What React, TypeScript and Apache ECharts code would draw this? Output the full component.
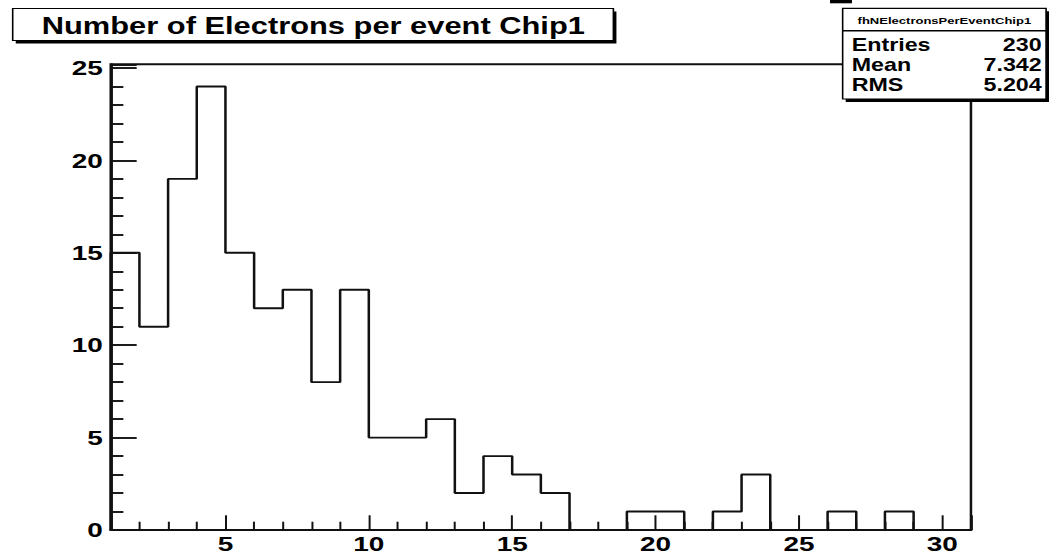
import React, { useEffect, useRef } from "react";
import * as echarts from "echarts";

// Histogram content
const titleText = "Number of Electrons per event Chip1";
const histName = "fhNElectronsPerEventChip1";
const statLabels = ["Entries", "Mean", "RMS"];
const statValues = ["230", "7.342", "5.204"];
const xRange = [1, 31];
const binWidth = 1;
const counts = [15, 11, 19, 24, 15, 12, 13, 8, 13, 5, 5, 6, 2, 4, 3, 2, 0, 0, 1, 1, 0, 1, 3, 0, 0, 1, 0, 1, 0, 0];
const yRange = [0, 25.2];
const yTickStep = 5;

// Canvas is drawn narrow and stretched horizontally, like the original ROOT export
const W = 789;
const H = 554;
const SX = 1049 / W;
const FONT = '"Liberation Sans", Arial, Helvetica, sans-serif';

// Step outline of the histogram: left wall, bin tops, right wall
function outline(): number[][] {
  const pts: number[][] = [[xRange[0], 0]];
  counts.forEach((c, i) => {
    const lo = xRange[0] + i * binWidth;
    pts.push([lo, c], [lo + binWidth, c]);
  });
  pts.push([xRange[1], 0]);
  return pts;
}

function shadowBox(x: number, y: number, w: number, h: number, z: number) {
  return [
    { type: "rect", z, shape: { x: x + 2.3, y: y + 3, width: w, height: h }, style: { fill: "#000" } },
    { type: "rect", z: z + 1, shape: { x, y, width: w, height: h }, style: { fill: "#fff", stroke: "#000", lineWidth: 1.2 } },
  ];
}

export default function App() {
  const ref = useRef<HTMLDivElement>(null);

  useEffect(() => {
    if (!ref.current) return;
    const chart = echarts.init(ref.current, undefined, { renderer: "svg", width: W, height: H });

    const statBox = { x: 633.8, y: 8.3, w: 153, h: 90.7, sep: 30.7 };
    const rowsY = [44.2, 64.5, 84.8];

    const graphic: any[] = [
      ...shadowBox(9.55, 8.5, 451.8, 32, 100),
      {
        type: "text", z: 110, x: 31.4, y: 26.2,
        style: { text: titleText, font: `bold 23.2px ${FONT}`, fill: "#000", verticalAlign: "middle" },
      },
      ...shadowBox(statBox.x, statBox.y, statBox.w, statBox.h, 100),
      // foot of a clipped glyph at the top edge
      { type: "rect", z: 120, shape: { x: 624.3, y: 0, width: 16.5, height: 3.3 }, style: { fill: "#000" } },
      {
        type: "line", z: 110,
        shape: { x1: statBox.x, y1: statBox.sep, x2: statBox.x + statBox.w, y2: statBox.sep },
        style: { stroke: "#000", lineWidth: 1.4 },
      },
      {
        type: "text", z: 110, x: statBox.x + statBox.w / 2, y: 20.7,
        style: { text: histName, font: `bold 9.8px ${FONT}`, fill: "#000", align: "center", verticalAlign: "middle" },
      },
      ...statLabels.map((t, i) => ({
        type: "text", z: 110, x: 640.6, y: rowsY[i],
        style: { text: t, font: `bold 17.5px ${FONT}`, fill: "#000", align: "left", verticalAlign: "middle" },
      })),
      ...statValues.map((t, i) => ({
        type: "text", z: 110, x: 783.5, y: rowsY[i],
        style: { text: t, font: `bold 17.5px ${FONT}`, fill: "#000", align: "right", verticalAlign: "middle" },
      })),
    ];

    const labelStyle = { color: "#000", fontWeight: "bold" as const, fontFamily: FONT, fontSize: 21 };

    chart.setOption({
      animation: false,
      backgroundColor: "#fff",
      grid: {
        left: 83.3, right: W - 730.3, top: 64.3, bottom: H - 533.3,
        show: true, borderColor: "#111", borderWidth: 1.9, backgroundColor: "#fff",
      },
      xAxis: {
        type: "value",
        min: xRange[0],
        max: xRange[1],
        axisLine: { show: true, lineStyle: { color: "#111", width: 1.9 } },
        axisTick: { show: true, inside: true, length: 14.7, lineStyle: { color: "#111", width: 1.5 } },
        minorTick: { show: true, splitNumber: 5, length: 8.3, lineStyle: { color: "#111", width: 1.5 } },
        splitLine: { show: false },
        minorSplitLine: { show: false },
        axisLabel: {
          ...labelStyle,
          margin: 3,
          formatter: (v: number) => (v % 5 === 0 ? String(v) : ""),
        },
      },
      yAxis: {
        type: "value",
        min: yRange[0],
        max: yRange[1],
        interval: yTickStep,
        axisLine: { show: true, lineStyle: { color: "#111", width: 1.9 } },
        axisTick: { show: true, inside: true, length: 19.5, lineStyle: { color: "#111", width: 1.9 } },
        minorTick: { show: true, splitNumber: 5, length: 9.5, lineStyle: { color: "#111", width: 1.9 } },
        splitLine: { show: false },
        minorSplitLine: { show: false },
        axisLabel: {
          ...labelStyle,
          margin: 6,
          padding: [4, 0, 0, 0],
          formatter: (v: number) => (v % yTickStep === 0 ? String(v) : ""),
        },
      },
      series: [
        {
          type: "line",
          data: outline(),
          symbol: "none",
          silent: true,
          lineStyle: { color: "#111", width: 1.9 },
          z: 5,
        },
      ],
      graphic,
    });

    return () => chart.dispose();
  }, []);

  return (
    <div
      style={{
        position: "fixed",
        left: 0,
        top: 0,
        width: 1049,
        height: H,
        overflow: "hidden",
        background: "#fff",
      }}
    >
      <div
        ref={ref}
        style={{
          width: W,
          height: H,
          transform: `scaleX(${SX})`,
          transformOrigin: "0 0",
        }}
      />
    </div>
  );
}
